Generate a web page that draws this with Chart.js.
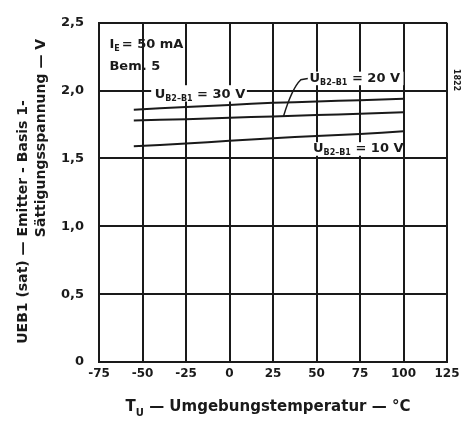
<!DOCTYPE html>
<html>
<head>
<meta charset="utf-8">
<script src="https://cdn.jsdelivr.net/npm/chart.js@4.4.1/dist/chart.umd.min.js"></script>
<style>
    html, body { margin: 0; padding: 0; background: #fff; }
    #wrap { width: 465px; height: 423px; }
</style>
</head>
<body>
<div id="wrap"><canvas id="UebSat" width="465" height="423"></canvas></div>
<script>
// Temperature points (°C)
const temperatures = [-55, -25, 0, 25, 50, 75, 100];

// U_EB1(sat) in V for each U_B2-B1
const u30V = [1.86, 1.88, 1.895, 1.91, 1.92, 1.93, 1.94];
const u20V = [1.78, 1.79, 1.80, 1.81, 1.82, 1.83, 1.84];
const u10V = [1.59, 1.61, 1.63, 1.65, 1.665, 1.68, 1.70];

// Axis ticks
const xTicks = [-75, -50, -25, 0, 25, 50, 75, 100, 125];
const yTicks = [0, 0.5, 1.0, 1.5, 2.0, 2.5];
const yTickLabels = ['0', '0,5', '1,0', '1,5', '2,0', '2,5'];

const fontFamily = '"DejaVu Sans", "Liberation Sans", sans-serif';
const ink = '#1a1a1a';

function toPoints(values) {
    return temperatures.map((t, i) => ({ x: t, y: values[i] }));
}

function lineSet(values) {
    return {
        data: toPoints(values),
        borderColor: ink,
        borderWidth: 2,
        pointRadius: 0,
        tension: 0.3,
        showLine: true,
        fill: false
    };
}

// draws "U" + subscript + rest, left aligned at px,py (middle)
function drawUText(ctx, px, py, rest) {
    ctx.textBaseline = 'middle';
    ctx.textAlign = 'left';
    ctx.font = 'bold 13px ' + fontFamily;
    ctx.fillText('U', px, py);
    let x = px + ctx.measureText('U').width;
    ctx.font = 'bold 8px ' + fontFamily;
    ctx.fillText('B2–B1', x, py + 4);
    x += ctx.measureText('B2–B1').width;
    ctx.font = 'bold 13px ' + fontFamily;
    ctx.fillText(rest, x, py);
    return x + ctx.measureText(rest).width;
}

const annotations = {
    id: 'annotations',
    afterDraw(chart) {
        const ctx = chart.ctx;
        const xs = chart.scales.x;
        const ys = chart.scales.y;
        const X = v => xs.getPixelForValue(v);
        const Y = v => ys.getPixelForValue(v);

        ctx.save();
        ctx.fillStyle = ink;
        ctx.strokeStyle = ink;

        // I_E = 50 mA
        ctx.textBaseline = 'middle';
        ctx.textAlign = 'left';
        ctx.font = 'bold 13px ' + fontFamily;
        ctx.fillText('I', X(-69), Y(2.34));
        let ix = X(-69) + ctx.measureText('I').width;
        ctx.font = 'bold 8px ' + fontFamily;
        ctx.fillText('E', ix, Y(2.34) + 4);
        ix += ctx.measureText('E').width + 2;
        ctx.font = 'bold 13px ' + fontFamily;
        ctx.fillText('= 50 mA', ix, Y(2.34));
        ctx.fillText('Bem. 5', X(-69), Y(2.18));

        // 30 V label sitting on the 2,0 line
        ctx.fillStyle = '#fff';
        ctx.fillRect(X(-45), Y(2.04), X(10) - X(-45), Y(1.92) - Y(2.04));
        ctx.fillStyle = ink;
        drawUText(ctx, X(-43), Y(1.97), ' = 30 V');

        // 20 V label with leader
        ctx.fillStyle = '#fff';
        ctx.fillRect(X(45), Y(2.14), X(100) - X(45), Y(2.04) - Y(2.14));
        ctx.fillStyle = ink;
        drawUText(ctx, X(46), Y(2.09), ' = 20 V');
        ctx.lineWidth = 1.5;
        ctx.beginPath();
        ctx.moveTo(X(31), Y(1.81));
        ctx.quadraticCurveTo(X(36), Y(2.02), X(41), Y(2.08));
        ctx.lineTo(X(45), Y(2.09));
        ctx.stroke();

        // 10 V label
        ctx.fillStyle = '#fff';
        ctx.fillRect(X(47), Y(1.62), X(99) - X(47), Y(1.52) - Y(1.62));
        ctx.fillStyle = ink;
        drawUText(ctx, X(48), Y(1.57), ' = 10 V');

        // x axis title, centred under the plot
        ctx.textBaseline = 'middle';
        ctx.textAlign = 'left';
        const rest = ' — Umgebungstemperatur — °C';
        ctx.font = 'bold 15px ' + fontFamily;
        const wT = ctx.measureText('T').width;
        const wRest = ctx.measureText(rest).width;
        ctx.font = 'bold 10px ' + fontFamily;
        const wU = ctx.measureText('U').width;
        let tx = 268 - (wT + wU + wRest) / 2;
        ctx.font = 'bold 15px ' + fontFamily;
        ctx.fillText('T', tx, 407);
        ctx.font = 'bold 10px ' + fontFamily;
        ctx.fillText('U', tx + wT, 413);
        ctx.font = 'bold 15px ' + fontFamily;
        ctx.fillText(rest, tx + wT + wU, 407);

        // y axis title, two lines
        ctx.save();
        ctx.translate(23, 222);
        ctx.rotate(-Math.PI / 2);
        ctx.textAlign = 'center';
        ctx.font = 'bold 14px ' + fontFamily;
        ctx.fillText('UEB1 (sat) — Emitter - Basis 1-', 0, 0, 266);
        ctx.restore();

        ctx.save();
        ctx.translate(41, 138);
        ctx.rotate(-Math.PI / 2);
        ctx.textAlign = 'center';
        ctx.font = 'bold 14px ' + fontFamily;
        ctx.fillText('Sättigungsspannung — V', 0, 0, 242);
        ctx.restore();

        // figure number on the right margin
        ctx.save();
        ctx.translate(456, 80);
        ctx.rotate(Math.PI / 2);
        ctx.textAlign = 'center';
        ctx.font = 'bold 8px ' + fontFamily;
        ctx.fillText('1822', 0, 0);
        ctx.restore();

        ctx.restore();
    }
};

const whiteBg = {
    id: 'whiteBg',
    beforeDraw(chart) {
        const ctx = chart.ctx;
        ctx.save();
        ctx.fillStyle = '#fff';
        ctx.fillRect(0, 0, chart.width, chart.height);
        ctx.restore();
    }
};

const config = {
    type: 'scatter',
    data: {
        datasets: [lineSet(u30V), lineSet(u20V), lineSet(u10V)]
    },
    options: {
        responsive: false,
        animation: false,
        layout: { padding: { top: 16, right: 18, left: 0, bottom: 0 } },
        plugins: {
            legend: { display: false },
            tooltip: { enabled: false },
            title: { display: false }
        },
        scales: {
            x: {
                type: 'linear',
                min: xTicks[0],
                max: xTicks[xTicks.length - 1],
                afterBuildTicks: s => { s.ticks = xTicks.map(v => ({ value: v })); },
                afterFit: s => { s.height = 61; },
                grid: { color: ink, lineWidth: 2, drawTicks: false },
                border: { color: ink, width: 2 },
                ticks: {
                    color: ink,
                    padding: 5,
                    maxRotation: 0,
                    font: { family: fontFamily, size: 12, weight: 'bold' },
                    callback: v => String(v)
                }
            },
            y: {
                min: yTicks[0],
                max: yTicks[yTicks.length - 1],
                afterBuildTicks: s => { s.ticks = yTicks.map(v => ({ value: v })); },
                afterFit: s => { s.width = 99; },
                grid: { color: ink, lineWidth: 2, drawTicks: false },
                border: { color: ink, width: 2 },
                ticks: {
                    color: ink,
                    padding: 15,
                    font: { family: fontFamily, size: 13, weight: 'bold' },
                    callback: v => yTickLabels[yTicks.indexOf(v)]
                }
            }
        }
    },
    plugins: [whiteBg, annotations]
};

new Chart(document.getElementById('UebSat'), config);
</script>
</body>
</html>
